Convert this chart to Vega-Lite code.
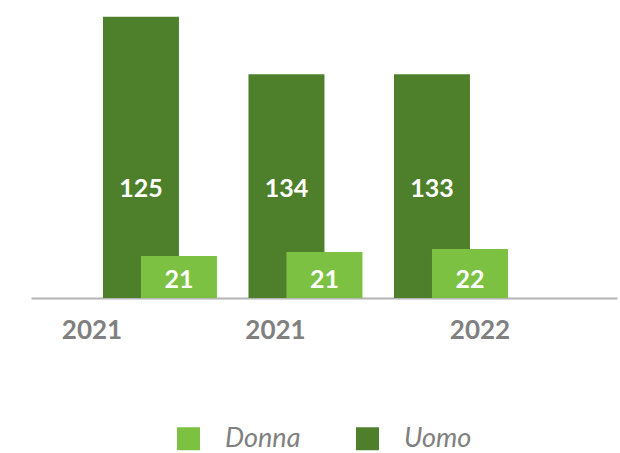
{
  "$schema": "https://vega.github.io/schema/vega-lite/v6.json",
  "width": 586,
  "height": 288,
  "autosize": {"type": "none"},
  "padding": {"left": 31, "top": 10, "right": 3, "bottom": 155},
  "background": "white",
  "config": {"view": {"stroke": null}, "font": "Lato"},
  "data": {
    "values": [
      {"anno": "2021a", "genere": "Uomo", "valore": 125, "barra": 125},
      {"anno": "2021b", "genere": "Uomo", "valore": 134, "barra": 99.5},
      {"anno": "2022", "genere": "Uomo", "valore": 133, "barra": 99.5},
      {"anno": "2021a", "genere": "Donna", "valore": 21, "barra": 18.7},
      {"anno": "2021b", "genere": "Donna", "valore": 21, "barra": 20.4},
      {"anno": "2022", "genere": "Donna", "valore": 22, "barra": 21.8}
    ]
  },
  "encoding": {
    "x": {
      "field": "anno",
      "type": "nominal",
      "sort": null,
      "scale": {"paddingInner": 0, "paddingOuter": 0.5137, "align": 0.376},
      "axis": {
        "title": null,
        "labelExpr": "slice(datum.label, 0, 4)",
        "labelAngle": 0,
        "labelFont": "Lato",
        "labelFontSize": 26,
        "labelFontWeight": "bold",
        "labelColor": "#808080",
        "ticks": false,
        "domainColor": "#b4b4b4",
        "domainWidth": 2,
        "labelPadding": 19,
        "labelOffset": {
          "condition": [
            {"test": "datum.value == '2021a'", "value": -68},
            {"test": "datum.value == '2021b'", "value": -30}
          ],
          "value": 29
        }
      }
    }
  },
  "layer": [
    {
      "transform": [{"filter": "datum.genere == 'Uomo'"}],
      "mark": {"type": "bar", "width": 76, "xOffset": -19},
      "encoding": {
        "y": {"field": "barra", "type": "quantitative", "scale": {"domain": [0, 128], "nice": false}, "axis": null},
        "color": {
          "field": "genere",
          "type": "nominal",
          "scale": {"domain": ["Donna", "Uomo"], "range": ["#7dc143", "#4e7f2a"]},
          "legend": {
            "title": null,
            "orient": "none",
            "direction": "horizontal",
            "legendX": 144,
            "legendY": 415,
            "symbolType": "square",
            "symbolSize": 529,
            "symbolStrokeWidth": 0,
            "labelFont": "Lato",
            "labelFontSize": 27,
            "labelFontStyle": "italic",
            "labelColor": "#808080",
            "labelBaseline": "middle",
            "labelOffset": 23,
            "columnPadding": 53,
            "labelLimit": 200
          }
        }
      }
    },
    {
      "transform": [{"filter": "datum.genere == 'Donna'"}],
      "mark": {"type": "bar", "width": 76, "xOffset": 19},
      "encoding": {
        "y": {"field": "barra", "type": "quantitative"},
        "color": {"field": "genere", "type": "nominal"}
      }
    },
    {
      "transform": [{"filter": "datum.genere == 'Uomo'"}],
      "mark": {"type": "text", "xOffset": -19, "font": "Lato", "fontSize": 25, "fontWeight": "bold", "color": "white", "baseline": "middle"},
      "encoding": {
        "y": {"datum": 48.6, "type": "quantitative"},
        "text": {"field": "valore", "type": "quantitative"}
      }
    },
    {
      "transform": [{"filter": "datum.genere == 'Donna'"}],
      "mark": {"type": "text", "xOffset": 19, "font": "Lato", "fontSize": 25, "fontWeight": "bold", "color": "white", "baseline": "middle"},
      "encoding": {
        "y": {"datum": 8.2, "type": "quantitative"},
        "text": {"field": "valore", "type": "quantitative"}
      }
    }
  ]
}
